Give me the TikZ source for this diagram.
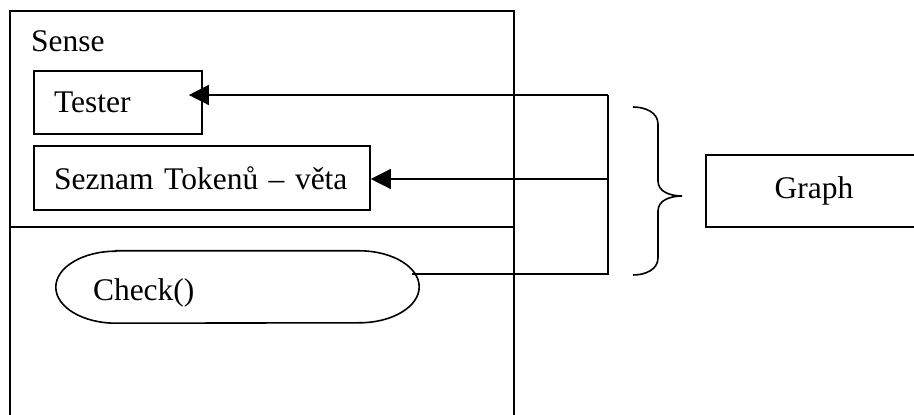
\documentclass[tikz,border=0pt]{standalone}
\usepackage{fontspec}
\setmainfont{Liberation Serif}
\usetikzlibrary{arrows.meta}

\tikzset{
  frame/.style={draw, line width=2pt, inner sep=0pt, outer sep=0pt},
  entry/.style={draw, line width=1.6pt, inner xsep=20pt, inner ysep=0pt, align=left},
  wire/.style={line width=1.4pt},
  link/.style={wire, -{Triangle[length=20pt,width=20pt]}},
}

\begin{document}
\begin{tikzpicture}[x=1pt, y=1pt, font=\fontsize{31.5}{36}\selectfont]
  \useasboundingbox (0,0) rectangle (914,415);
  \clip (0,0) rectangle (914,415);

  % class Sense
  \node[frame, minimum width=504pt, minimum height=216pt] (sense) at (262,296) {};
  \node[frame, minimum width=504pt, minimum height=200pt, anchor=north] (senseops) at (sense.south) {};
  \node[anchor=base west, inner sep=0pt] (sensename) at (31,363) {Sense};

  % attributes
  \node[entry, text width=128pt, minimum height=63pt] (tester) at (118,312.5) {Tester};
  \node[entry, text width=296pt, minimum height=64pt] (seznam) at (202,237) {Seznam Tokenů – věta};

  % method
  \node[inner xsep=37pt, inner ysep=0pt, text width=289pt, text height=33pt, align=left, minimum height=72pt] (check) at (237.5,128) {Check()};
  \draw[line width=1.6pt] ([xshift=60pt]check.north west) -- ([xshift=-60pt]check.north east)
    arc[start angle=90, end angle=-90, x radius=60pt, y radius=36pt]
    -- ([xshift=60pt]check.south west)
    arc[start angle=270, end angle=90, x radius=60pt, y radius=36pt] -- cycle;

  % graph side
  \node[entry, minimum width=216pt, minimum height=72pt, align=center] (graph) at (814,224) {Graph};
  \draw[line width=1.6pt] (633,308) to[out=0, in=90] (658,291) -- (658,234)
    to[out=-90, in=180] (682,219) to[out=180, in=90] (658,204) -- (658,157)
    to[out=-90, in=0] (633,140);

  % connectors
  \coordinate (bustop) at (608,320);
  \coordinate (busmid) at (608,236);
  \draw[wire] ([xshift=-7pt,yshift=13pt]check.east) -| (bustop);
  \draw[link, shorten >=-14pt] (bustop) -- (tester.east |- bustop);
  \draw[link] (busmid) -- (seznam.east |- busmid);
\end{tikzpicture}
\end{document}
